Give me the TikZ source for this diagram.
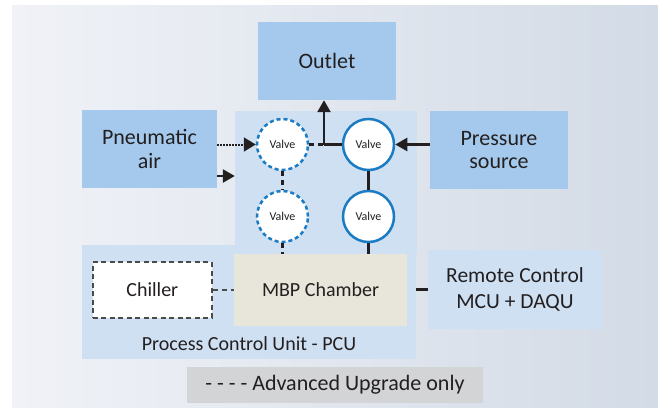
\documentclass[tikz,border=0pt]{standalone}
\usepackage{fontspec}
\setmainfont{Carlito}
\usetikzlibrary{positioning, arrows.meta}
\definecolor{boxblue}{HTML}{A4C9EC}
\definecolor{paleblue}{HTML}{CFE0F3}
\definecolor{chamberbeige}{HTML}{E8E6DA}
\definecolor{valveblue}{HTML}{1B7BC3}
\definecolor{legendgray}{HTML}{D3D4D6}
\definecolor{bgleft}{HTML}{F0F2F7}
\definecolor{bgmid}{HTML}{E8EBF2}
\definecolor{bgright}{HTML}{D3DBE6}
\definecolor{inkgray}{HTML}{231F20}
\definecolor{dashgray}{HTML}{4A4A4A}

\begin{document}
\begin{tikzpicture}[
    x=1pt, y=-1pt,
    every node/.style={text=inkgray},
    block/.style={rectangle, fill=boxblue, inner sep=0pt, align=center, font=\fontsize{22}{23.5}\selectfont},
    region/.style={rectangle, fill=paleblue, inner sep=0pt},
    valve/.style={circle, draw=valveblue, fill=white, line width=2.5pt, minimum size=51pt, inner sep=0pt, font=\fontsize{12}{14}\selectfont},
    optvalve/.style={valve, dash pattern=on 4pt off 3pt},
    link/.style={line width=2.5pt, draw=inkgray},
    optlink/.style={link, dash pattern=on 5pt off 4pt},
    dotlink/.style={line width=2pt, draw=inkgray, dash pattern=on 1.5pt off 1.5pt, -{Triangle[length=12pt, width=14pt]}},
    arrow/.style={link, -{Triangle[length=12pt, width=13pt]}}
  ]
    \useasboundingbox (0,0) rectangle (658,412);
    \shade[left color=bgleft, middle color=bgmid, right color=bgright] (12,6) rectangle (658,407);

    % regions
    \node[region, minimum width=182pt, minimum height=143pt] (valvereg) at (326,182.5) {};
    \node[region, minimum width=334pt, minimum height=114pt] (pcu) at (249,302) {};
    \node[font=\fontsize{20}{24}\selectfont] (pculabel) at (249,344) {Process Control Unit - PCU};

    % boxes
    \node[block, minimum width=138pt, minimum height=78pt] (outlet) at (327,61) {Outlet};
    \node[block, minimum width=135pt, minimum height=78pt] (pneu) at (149.5,149) {Pneumatic\\air};
    \node[block, minimum width=138pt, minimum height=78pt] (press) at (499,150) {Pressure\\source};
    \node[rectangle, fill=chamberbeige, minimum width=173pt, minimum height=72pt, font=\fontsize{20}{24}\selectfont] (chamber) at (320.5,290) {MBP Chamber};
    \node[rectangle, draw=dashgray, fill=white, line width=2pt, dash pattern=on 5pt off 3.5pt, minimum width=119pt, minimum height=56pt, font=\fontsize{20}{24}\selectfont, left=21pt of chamber] (chiller) {Chiller};
    \node[block, fill=paleblue, minimum width=174pt, minimum height=79pt, font=\fontsize{21.5}{26.5}\selectfont] (remote) at (515,289.5) {Remote Control\\MCU + DAQU};
    \node[rectangle, fill=legendgray, minimum width=296pt, minimum height=36pt, font=\fontsize{22}{26}\selectfont] (legend) at (335,385) {- - - - Advanced Upgrade only};

    % valves
    \node[optvalve] (v1) at (282.5,144.5) {Valve};
    \node[valve, right=32.5pt of v1] (v2) {Valve};
    \node[optvalve, below=18.5pt of v1] (v3) {Valve};
    \node[valve, below=18.5pt of v2] (v4) {Valve};

    % connectors
    \coordinate (junc) at (324,144.5);
    \coordinate (pin) at ([yshift=-27pt]pneu.east);
    \draw[dotlink] (pneu.east |- v1) -- (v1.west);
    \draw[arrow] (pin) -- (pin -| valvereg.west);
    \draw[optlink] (v1.east) -- (junc);
    \draw[link] (junc) -- (v2.west);
    \draw[arrow] (junc) -- (junc |- outlet.south);
    \draw[arrow] (press.west |- v2) -- (v2.east);
    \draw[optlink] (v1) -- (v3);
    \draw[optlink] (v3) -- (v3 |- chamber.north);
    \draw[link] (v2) -- (v4);
    \draw[link] (v4) -- (v4 |- chamber.north);
    \draw[optlink, draw=dashgray, line width=2pt] (chiller.east) -- (chamber.west);
    \draw[link] (remote.west) -- (remote.west -| pcu.east);
  \end{tikzpicture}
\end{document}
